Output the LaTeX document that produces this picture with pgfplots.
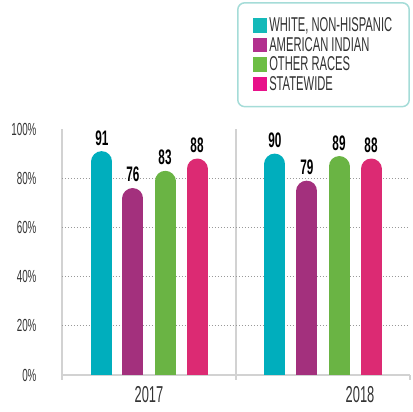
\documentclass[border=0pt]{standalone}
\usepackage{pgfplots}
\pgfplotsset{compat=1.18}
\usepackage{fontspec}
\setmainfont{Liberation Sans}[FakeStretch=0.56]
\definecolor{cteal}{HTML}{00AEBD}
\definecolor{cpurple}{HTML}{A3307D}
\definecolor{cgreen}{HTML}{6AB444}
\definecolor{cpink}{HTML}{DC2A73}
\definecolor{lteal}{HTML}{14B9B9}
\definecolor{lpurple}{HTML}{B2308E}
\definecolor{lgreen}{HTML}{6DBE45}
\definecolor{lpink}{HTML}{E8118A}
\definecolor{legborder}{HTML}{A5DCD8}
\definecolor{axisgray}{HTML}{D2D2D2}
\definecolor{txt}{HTML}{333333}
\begin{document}
\begin{tikzpicture}
\useasboundingbox (-62pt,-37pt) rectangle (351pt,375pt);
\begin{axis}[
  at={(0,0)}, anchor=south west,
  scale only axis, width=348pt, height=246pt,
  xmin=0, xmax=2, ymin=0, ymax=100,
  axis x line*=bottom, axis y line*=left,
  axis line style={draw=axisgray, line width=1.2pt, -},
  /pgf/number format/assume math mode=true,
  ytick={0,20,...,100},
  yticklabel={\pgfmathprintnumber{\tick}\%},
  yticklabel style={font=\fontsize{17.5}{17.5}\selectfont, text=txt, xshift=-22pt},
  xtick={0.5,1.713}, xticklabels={2017,2018},
  xticklabel style={font=\fontsize{23}{23}\selectfont, text=txt, yshift=-8pt},
  major tick length=0pt,
  minor xtick={0,1,2}, minor tick length=5pt, tick align=outside,
  minor tick style={draw=axisgray, line width=1.2pt},
  extra y ticks={20,40,60,80}, extra y tick labels={},
  extra y tick style={grid=major, major grid style={draw=gray!80, dash pattern=on 0.9pt off 2.1pt, line width=0.9pt}},
  extra x ticks={1}, extra x tick labels={},
  extra x tick style={grid=major, major grid style={draw=axisgray, line width=1.2pt, solid}},
  bar/.style={ycomb, line width=21pt, line cap=round, shorten >=10.5pt, forget plot,
    nodes near coords,
    every node near coord/.append style={font=\bfseries\fontsize{21}{21}\selectfont, text=black, yshift=-8pt}},
  legend cell align=left,
  legend image code/.code={\fill[#1, sharp corners] (0pt,-6.5pt) rectangle (13pt,6.5pt);},
  legend style={at={(1,1.516)}, anchor=north east, draw=legborder, line width=1.5pt,
    rounded corners=7pt, font=\fontsize{20}{20}\selectfont, text=txt,
    inner xsep=15pt, inner ysep=13pt, row sep=0pt,
    /tikz/every even column/.append style={column sep=5pt}},
]
\addlegendimage{lteal}\addlegendentry{WHITE, NON-HISPANIC}
\addlegendimage{lpurple}\addlegendentry{AMERICAN INDIAN}
\addlegendimage{lgreen}\addlegendentry{OTHER RACES}
\addlegendimage{lpink}\addlegendentry{STATEWIDE}
% 2017
\addplot[bar, draw=cteal] coordinates {(0.229,91)};
\addplot[bar, draw=cpurple] coordinates {(0.408,76)};
\addplot[bar, draw=cgreen] coordinates {(0.592,83)};
\addplot[bar, draw=cpink] coordinates {(0.776,88)};
% 2018
\addplot[bar, draw=cteal] coordinates {(1.224,90)};
\addplot[bar, draw=cpurple] coordinates {(1.408,79)};
\addplot[bar, draw=cgreen] coordinates {(1.592,89)};
\addplot[bar, draw=cpink] coordinates {(1.776,88)};
\end{axis}
\end{tikzpicture}
\end{document}
